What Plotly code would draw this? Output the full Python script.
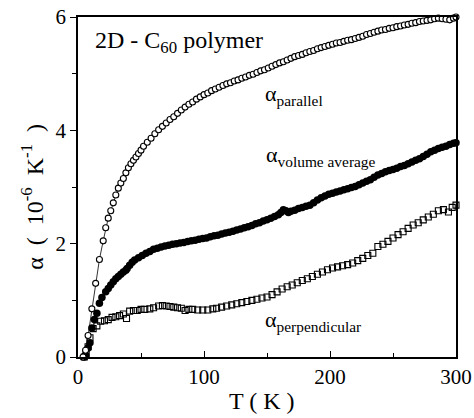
import plotly.graph_objects as go

# ---- data ----
T_par = [4, 6, 8, 11, 14, 17, 20, 22, 24, 26, 28, 30, 32, 34, 36, 38, 40, 42, 44, 46, 48, 50, 52, 55, 58,
         61, 64, 67, 70, 73, 76, 79, 82, 85, 88, 91, 94, 97, 100, 103, 106, 109, 112, 115, 118, 121, 124,
         127, 130, 133, 136, 139, 142, 145, 148, 151, 154, 157, 160, 163, 166, 169, 172, 175, 178, 181,
         184, 187, 190, 193, 196, 199, 202, 205, 208, 211, 214, 217, 220, 223, 226, 229, 232, 235, 238,
         241, 244, 247, 250, 253, 256, 259, 262, 265, 268, 271, 274, 277, 280, 283, 286, 289, 292, 295,
         298, 300]
a_par = [0.00, 0.12, 0.38, 0.85, 1.30, 1.72, 2.05, 2.28, 2.45, 2.58, 2.72, 2.86, 2.98, 3.07, 3.15, 3.25,
         3.34, 3.41, 3.47, 3.53, 3.59, 3.65, 3.72, 3.79, 3.86, 3.94, 4.01, 4.07, 4.13, 4.19, 4.24, 4.30,
         4.36, 4.41, 4.46, 4.50, 4.55, 4.59, 4.63, 4.66, 4.70, 4.73, 4.76, 4.79, 4.82, 4.84, 4.87, 4.89,
         4.92, 4.94, 4.97, 4.99, 5.02, 5.05, 5.07, 5.10, 5.13, 5.16, 5.19, 5.21, 5.24, 5.27, 5.30, 5.32,
         5.34, 5.37, 5.39, 5.41, 5.44, 5.46, 5.48, 5.50, 5.52, 5.54, 5.55, 5.57, 5.59, 5.60, 5.62, 5.64,
         5.66, 5.69, 5.71, 5.73, 5.75, 5.77, 5.78, 5.80, 5.81, 5.83, 5.84, 5.86, 5.87, 5.89, 5.90, 5.92,
         5.93, 5.94, 5.95, 5.97, 5.98, 5.97, 5.96, 5.95, 5.98, 6.00]

T_vol = [5, 6, 8, 9.5, 11, 13, 15, 17, 19, 22, 24, 26, 28, 30, 32, 34, 36, 38, 39, 41, 43, 45, 48, 51, 54,
         57, 60, 63, 66, 69, 72, 75, 78, 81, 84, 87, 90, 93, 96, 99, 102, 105, 108, 111, 114, 117, 120,
         123, 126, 129, 132, 135, 138, 141, 144, 147, 150, 153, 156, 159, 161, 163, 165, 167, 169, 172,
         175, 178, 181, 184, 187, 190, 193, 196, 199, 202, 205, 208, 211, 214, 217, 220, 223, 226, 229,
         232, 235, 238, 241, 244, 247, 250, 253, 256, 259, 262, 265, 268, 271, 274, 277, 280, 283, 286,
         289, 292, 295, 298, 300]
a_vol = [0.00, 0.03, 0.16, 0.25, 0.51, 0.66, 0.77, 0.95, 1.05, 1.15, 1.21, 1.27, 1.33, 1.38, 1.42, 1.46,
         1.50, 1.53, 1.56, 1.62, 1.67, 1.71, 1.75, 1.79, 1.83, 1.86, 1.90, 1.92, 1.94, 1.96, 1.97, 1.99,
         2.00, 2.01, 2.02, 2.04, 2.05, 2.06, 2.08, 2.09, 2.10, 2.12, 2.14, 2.15, 2.17, 2.19, 2.20, 2.22,
         2.24, 2.26, 2.28, 2.30, 2.32, 2.35, 2.37, 2.40, 2.42, 2.45, 2.48, 2.51, 2.55, 2.60, 2.58, 2.55,
         2.57, 2.59, 2.62, 2.64, 2.66, 2.68, 2.72, 2.77, 2.81, 2.84, 2.87, 2.89, 2.91, 2.93, 2.95, 2.97,
         2.99, 3.01, 3.04, 3.07, 3.10, 3.13, 3.17, 3.21, 3.24, 3.27, 3.29, 3.31, 3.33, 3.36, 3.38, 3.41,
         3.44, 3.47, 3.50, 3.54, 3.58, 3.62, 3.65, 3.68, 3.70, 3.72, 3.75, 3.77, 3.78]

T_perp = [5, 6.5, 8, 9.5, 12, 15, 18, 21, 24, 27, 30, 33, 36, 38.5, 41, 44, 47, 50, 53, 57, 60, 64, 67, 70,
          73, 76, 79, 82, 85, 88, 91, 95, 99, 103, 107, 110, 114, 118, 122, 126, 130, 134, 138, 142, 146,
          150, 154, 158, 162, 166, 170, 174, 178, 182, 186, 190, 194, 198, 202, 206, 210, 214, 218, 222,
          226, 230, 234, 238, 242, 246, 250, 254, 258, 262, 266, 270, 274, 278, 282, 286, 290, 294, 297,
          300]
a_perp = [0.00, 0.06, 0.18, 0.34, 0.50, 0.55, 0.63, 0.64, 0.66, 0.70, 0.71, 0.73, 0.76, 0.68, 0.81, 0.82,
          0.82, 0.84, 0.84, 0.85, 0.87, 0.90, 0.91, 0.90, 0.89, 0.88, 0.87, 0.86, 0.82, 0.84, 0.84, 0.83,
          0.83, 0.83, 0.85, 0.86, 0.88, 0.90, 0.92, 0.94, 0.96, 0.98, 1.00, 1.02, 1.04, 1.06, 1.10, 1.15,
          1.20, 1.24, 1.27, 1.31, 1.35, 1.38, 1.42, 1.46, 1.50, 1.54, 1.57, 1.59, 1.61, 1.63, 1.66, 1.70,
          1.74, 1.79, 1.83, 1.95, 1.99, 2.04, 2.10, 2.16, 2.21, 2.27, 2.33, 2.37, 2.42, 2.47, 2.52, 2.58,
          2.60, 2.56, 2.64, 2.68]

x_ticks = [0, 100, 200, 300]
y_ticks = [0, 2, 4, 6]

FONT = "Liberation Serif"

fig = go.Figure()
fig.add_trace(go.Scatter(
    x=T_perp, y=a_perp, mode="markers", cliponaxis=False,
    marker=dict(symbol="square-open", size=6, color="black", line=dict(width=1.1)),
    showlegend=False))
fig.add_trace(go.Scatter(
    x=T_vol, y=a_vol, mode="markers", cliponaxis=False,
    marker=dict(symbol="circle", size=7.5, color="black"),
    showlegend=False))
fig.add_trace(go.Scatter(
    x=T_par, y=a_par, mode="lines+markers", cliponaxis=False,
    line=dict(color="black", width=0.8),
    marker=dict(symbol="circle", size=6, color="white", line=dict(color="black", width=1.1)),
    showlegend=False))

axis_common = dict(showline=True, linecolor="black", linewidth=1.5, mirror=True,
                   showgrid=False, zeroline=False, tickcolor="black", automargin=False,
                   tickfont=dict(family=FONT, size=21, color="black"))
fig.update_xaxes(range=[0, 300], tickvals=x_ticks, ticktext=[str(v) for v in x_ticks],
                 ticks="inside", ticklen=6, tickwidth=1.2,
                 minor=dict(dtick=50, ticks="inside", ticklen=4, tickcolor="black", tickwidth=1.2),
                 **axis_common)
fig.update_yaxes(range=[0, 6], tickvals=y_ticks, ticktext=[str(v) for v in y_ticks],
                 ticks="outside", ticklen=6, tickwidth=1.2,
                 minor=dict(dtick=1, ticks="outside", ticklen=4, tickcolor="black", tickwidth=1.2),
                 **axis_common)

ann_font = dict(family=FONT, size=22, color="black")
sp = "&nbsp;"
fig.update_layout(
    width=474, height=418, autosize=False,
    margin=dict(l=78, r=18, t=17, b=61, pad=0),
    plot_bgcolor="white", paper_bgcolor="white",
    font=dict(family=FONT, color="black"),
    annotations=[
        dict(x=12, y=5.56, xref="x", yref="y", xanchor="left", yanchor="middle", showarrow=False,
             text="2D - C<sub>60</sub> polymer", font=dict(family=FONT, size=24, color="black")),
        dict(x=147, y=4.63, xref="x", yref="y", xanchor="left", yanchor="middle", showarrow=False,
             text="α<sub>parallel</sub>", font=ann_font),
        dict(x=148, y=3.54, xref="x", yref="y", xanchor="left", yanchor="middle", showarrow=False,
             text="α<sub>volume average</sub>", font=ann_font),
        dict(x=147, y=0.63, xref="x", yref="y", xanchor="left", yanchor="middle", showarrow=False,
             text="α<sub>perpendicular</sub>", font=ann_font),
        dict(x=0.487, y=-0.13, xref="paper", yref="paper", xanchor="center", yanchor="middle",
             showarrow=False, text="T ( K )", font=dict(family=FONT, size=24, color="black")),
        dict(x=-0.12, y=0.47, xref="paper", yref="paper", xanchor="center", yanchor="middle",
             showarrow=False, textangle=-90,
             text="α" + sp * 2 + "(" + sp * 2 + "10<sup>-6</sup>" + sp * 2 + "K<sup>-1</sup>" + sp * 2 + ")",
             font=dict(family=FONT, size=24, color="black")),
    ],
)

fig.write_html("out.html")
